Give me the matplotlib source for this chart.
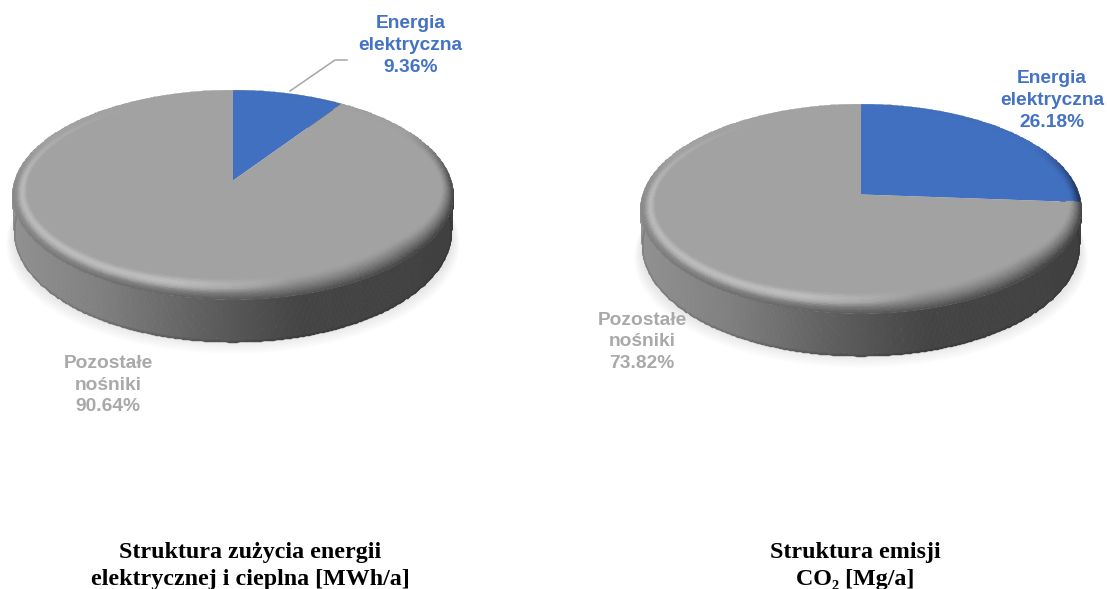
# -*- coding: utf-8 -*-
import numpy as np
import matplotlib
matplotlib.use('Agg')
import matplotlib.pyplot as plt
from matplotlib.colors import to_rgb

# udzialy [%]
labels = ['Energia\nelektryczna', 'Pozostałe\nnośniki']
share_energy = [9.36, 90.64]
share_co2 = [26.18, 73.82]
slice_colors = ['#4170C0', '#A2A2A2']
text_colors = ['#4472C4', '#A9A9A9']

titles = ['Struktura zużycia energii\nelektrycznej i cieplna [MWh/a]',
          'Struktura emisji\nCO₂ [Mg/a]']

RX, RY, K = 218.0, 102.5, 0.139


def project(cx, cy, u, v):
    # rzut perspektywiczny kola jednostkowego
    d = 1 + K * v
    return cx + RX * u / d, cy - RY * v / d


def draw_pie(ax, cx, cy, values):
    t = np.radians(np.linspace(0, 360, 721))
    u, v = np.sin(t), np.cos(t)
    x, y = project(cx, cy, u, v)

    # cien pod dyskiem
    for grow in np.linspace(1.03, 1.0, 8):
        ax.fill(cx + (x - cx) * grow, y + 42 + 12 * (grow - 1) / .03 * (1 - v) / 2,
                color='black', alpha=.012, lw=0, zorder=1)

    # bok walca
    fr = np.linspace(0, 1, 24)
    T, F = np.meshgrid(t, fr)
    X0, Y0 = project(cx, cy, np.sin(T), np.cos(T))
    depth = 30 + 13 * (1 - np.cos(T)) / 2
    X = cx + (X0 - cx) * (1 - 0.008 * F)
    Y = Y0 + depth * F
    dx = (X - cx) / 220.0
    g = np.interp(dx, [-1, -0.6, -0.15, 0.3, 1], [.57, .50, .38, .27, .25])
    g = g * np.interp(F, [0, .92, 1], [1, 1, .75])
    ax.pcolormesh(X, Y, g[:-1, :-1], cmap='gray', vmin=0, vmax=1, shading='flat',
                  antialiased=True, edgecolor='face', linewidth=0.3, zorder=2, rasterized=True)

    # gorna powierzchnia, plasterki zgodnie z ruchem wskazowek od godziny 12
    edges = np.cumsum([0] + list(values)) / 100.0 * 2 * np.pi
    for i in range(len(values)):
        a = np.linspace(edges[i], edges[i + 1], 400)
        xs, ys = project(cx, cy, np.sin(a), np.cos(a))
        ax.fill(np.r_[cx, xs], np.r_[cy, ys], color=slice_colors[i], lw=0, zorder=3)

    # fazowanie krawedzi o stalej szerokosci w pikselach
    p = np.linspace(0, 1, 16)
    T, P = np.meshgrid(t, p)
    deg = np.degrees(T)
    width = np.interp(deg, [0, 90, 130, 180, 215, 270, 360], [8, 13, 23, 17, 15, 14, 8])
    d = width * np.sqrt((RX * np.cos(T)) ** 2 + (RY * np.sin(T)) ** 2) / (RX * RY)
    S = 1 - d * (1 - P)
    X, Y = project(cx, cy, S * np.sin(T), S * np.cos(T))

    tm = np.degrees((T[:-1, :-1] + T[1:, 1:]) / 2)
    pm = (P[:-1, :-1] + P[1:, 1:]) / 2
    light = np.interp(tm, [0, 165, 195, 225, 270, 300, 330, 360],
                      [0, 0, .34, .32, .26, .10, 0, 0])
    dark = np.interp(tm, [0, 60, 90, 130, 180, 225, 270, 295, 360],
                     [0, .02, .55, .62, .45, .28, .14, 0, 0])
    up = np.sin(np.pi * np.clip(pm / 0.8, 0, 1)) ** 2 * light
    down = np.clip((pm - 0.25) / 0.75, 0, 1) ** 1.4 * dark
    net = up - down

    # kolor bazowy plasterka pod danym katem, rozjasniony lub przyciemniony
    base = np.array([to_rgb(slice_colors[0]), to_rgb(slice_colors[1])])
    rgb = base[(tm > np.degrees(edges[1])).astype(int)]
    over = (net > 0)[..., None] * 1.0
    rgb = rgb * (1 - np.abs(net)[..., None]) + over * np.abs(net)[..., None]
    ax.pcolormesh(X, Y, rgb, shading='flat', antialiased=True, edgecolor='face',
                  linewidth=0.3, zorder=4, rasterized=True)


fig = plt.figure(figsize=(11.07, 5.89), dpi=100)
ax = fig.add_axes([0, 0, 1, 1])
ax.set_xlim(0, 1107)
ax.set_ylim(589, 0)
ax.axis('off')

draw_pie(ax, 233, 180.5, share_energy)
draw_pie(ax, 861, 194.5, share_co2)

# linia odniesienia etykiety
ax.plot([290, 335, 347], [91, 60, 60], color='#A6A6A6', lw=1.1, zorder=5)

lab = dict(ha='center', va='center', fontsize=13.8, fontweight='bold',
           family='Liberation Sans', linespacing=1.36)
ax.text(410.5, 45.5, '%s\n%.2f%%' % (labels[0], share_energy[0]), color=text_colors[0], **lab)
ax.text(108, 385, '%s\n%.2f%%' % (labels[1], share_energy[1]), color=text_colors[1], **lab)
ax.text(1052, 100.5, '%s\n%.2f%%' % (labels[0], share_co2[0]), color=text_colors[0], **lab)
ax.text(642, 342, '%s\n%.2f%%' % (labels[1], share_co2[1]), color=text_colors[1], **lab)

tit = dict(ha='center', va='center', fontsize=17.3, fontweight='bold',
           family='Liberation Serif', color='black', linespacing=1.36)
ax.text(250, 566, titles[0], **tit)
ax.text(855, 566, titles[1], **tit)

plt.savefig('out.png', dpi=100)
